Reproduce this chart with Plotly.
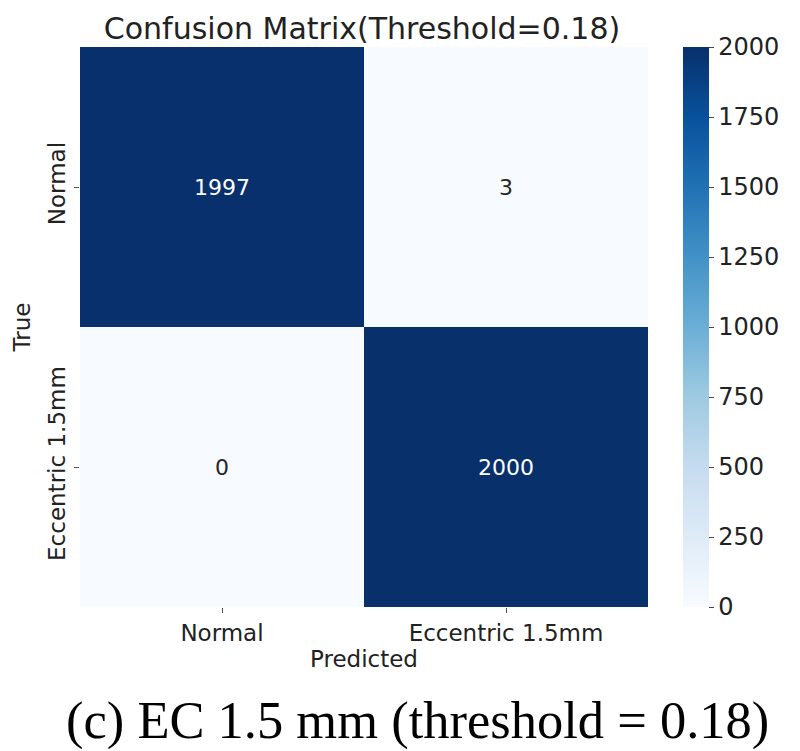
import plotly.graph_objects as go

labels = ["Normal", "Eccentric 1.5mm"]
z_values = [[1997, 3], [0, 2000]]
cbar_ticks = [0, 250, 500, 750, 1000, 1250, 1500, 1750, 2000]
title_text = "Confusion Matrix(Threshold=0.18)"
caption = "(c) EC 1.5 mm (threshold = 0.18)"

blues = [
    [0.0, "#f7fbff"], [0.125, "#deebf7"], [0.25, "#c6dbef"], [0.375, "#9ecae1"],
    [0.5, "#6baed6"], [0.625, "#4292c6"], [0.75, "#2171b5"], [0.875, "#08519c"],
    [1.0, "#08306b"],
]

# page body has an 8px margin; figure sized to fit inside the window
OFF = 8
W, H = 800 - OFF, 751 - OFF
L, T = 80 - OFF, 47 - OFF
pw, ph = 568, 560
R = W - L - pw
B = H - T - ph

fig = go.Figure()
fig.add_trace(go.Heatmap(
    z=z_values, x=labels, y=labels,
    colorscale=blues, zmin=0, zmax=2000,
    xgap=0, ygap=0,
    colorbar=dict(
        x=(683 - OFF - L) / pw, xanchor="left", xref="paper", xpad=0, ypad=0,
        y=0.5, yanchor="middle", len=1.0, lenmode="fraction",
        thickness=26, outlinewidth=0,
        tickvals=cbar_ticks, ticks="outside", ticklen=5, tickcolor="#444",
        tickfont=dict(family="DejaVu Sans", size=24, color="#222"),
    ),
    showscale=True,
))

annotations = []
for i, row_label in enumerate(labels):
    for j, col_label in enumerate(labels):
        v = z_values[i][j]
        annotations.append(dict(
            x=col_label, y=row_label, xref="x", yref="y", text=str(v),
            showarrow=False,
            font=dict(family="DejaVu Sans", size=22,
                      color="#ffffff" if v > 1000 else "#262626"),
        ))

annotations.append(dict(
    x=(417 - OFF - L) / pw, y=(T + ph - (720 - OFF)) / ph, xref="paper", yref="paper",
    text=caption, showarrow=False, xanchor="center", yanchor="middle",
    font=dict(family="Liberation Serif", size=52.5, color="#000000"),
))

fig.update_layout(
    width=W, height=H,
    margin=dict(l=L, r=R, t=T, b=B, autoexpand=False),
    paper_bgcolor="white", plot_bgcolor="white",
    title=dict(text=title_text, x=(362 - OFF) / W, xanchor="center",
               y=1 - (28 - OFF) / H, yanchor="middle", yref="container",
               font=dict(family="DejaVu Sans", size=30, color="#222")),
    annotations=annotations,
    font=dict(family="DejaVu Sans", color="#222"),
)
fig.update_xaxes(
    automargin=False,
    title=dict(text="Predicted", font=dict(size=23), standoff=4),
    tickfont=dict(size=23), ticks="outside", ticklen=5, tickcolor="#555",
    showgrid=False, zeroline=False, showline=False,
)
fig.update_yaxes(
    automargin=False,
    title=dict(text="True", font=dict(size=23), standoff=6),
    tickfont=dict(size=23), tickangle=-90, ticks="outside", ticklen=5, tickcolor="#555",
    autorange="reversed",
    showgrid=False, zeroline=False, showline=False,
)

fig.write_html("out.html")
